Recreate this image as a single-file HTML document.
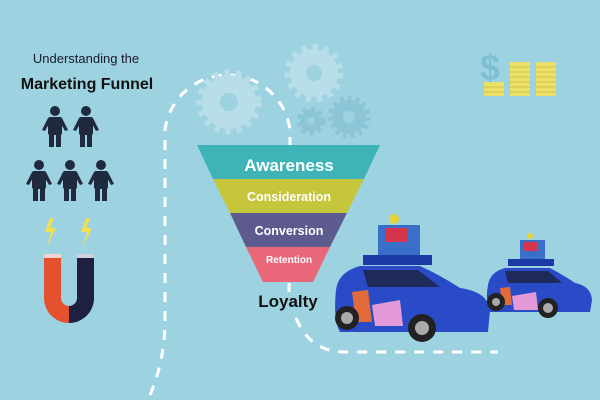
<!DOCTYPE html>
<html><head><meta charset="utf-8"><style>
html,body{margin:0;padding:0}
body{width:600px;height:400px;overflow:hidden;background:#9dd2e1}
svg{display:block}
text{font-family:"Liberation Sans",sans-serif;font-weight:bold}
</style></head><body>
<svg width="600" height="400" viewBox="0 0 600 400">
<rect width="600" height="400" fill="#9dd2e1"/>
<g fill="none" stroke="#fff" stroke-width="3" stroke-dasharray="10 9">
<path d="M150 395 Q165 360 165 320 L165 130 A63 63 0 0 1 290 130 L290 145"/>
<path d="M289 283 L289 292"/>
<path d="M296 318 Q310 352 345 352 L498 352"/>
</g>
<g fill="#b8dfe9">
<circle cx="229" cy="102" r="27"/>
<circle cx="314" cy="73" r="24"/>
</g>
<g fill="#8cc5d6">
<circle cx="349" cy="117" r="17"/>
<circle cx="311" cy="121" r="11"/>
</g>
<g fill="#9dd2e1"><circle cx="229" cy="102" r="9"/><circle cx="314" cy="73" r="8"/><circle cx="349" cy="117" r="6"/><circle cx="311" cy="121" r="4"/></g>
<g stroke="#b8dfe9" stroke-width="7" stroke-dasharray="5 6" fill="none"><circle cx="229" cy="102" r="29"/><circle cx="314" cy="73" r="26"/></g>
<g stroke="#8cc5d6" stroke-width="5" stroke-dasharray="4 4" fill="none"><circle cx="349" cy="117" r="19"/><circle cx="311" cy="121" r="12"/></g>
<text x="480" y="80" font-size="36" fill="#7dbfd3">$</text>
<g fill="#ebe06a">
<rect x="484" y="82" width="20" height="14"/>
<rect x="510" y="62" width="20" height="34"/>
<rect x="536" y="62" width="20" height="34"/>
</g>
<g stroke="#cfc24a" stroke-width="1"><path d="M484 87h20M484 92h20M510 67h20M510 72h20M510 77h20M510 82h20M510 87h20M510 92h20M536 67h20M536 72h20M536 77h20M536 82h20M536 87h20M536 92h20"/></g>
<polygon points="197,145 380,145 364,179 213,179" fill="#3fb4b8"/>
<polygon points="213,179 364,179 347,213 230,213" fill="#c5c63c"/>
<polygon points="230,213 347,213 330,247 246,247" fill="#5d5a8e"/>
<polygon points="246,247 330,247 313,282 263,282" fill="#e8687a"/>
<text x="289" y="171" font-size="17" fill="#fff" text-anchor="middle">Awareness</text>
<text x="289" y="201" font-size="12.5" fill="#fff" text-anchor="middle">Consideration</text>
<text x="289" y="235" font-size="12.5" fill="#fff" text-anchor="middle">Conversion</text>
<text x="289" y="263" font-size="10" fill="#fff" text-anchor="middle">Retention</text>
<text x="288" y="307" font-size="17" fill="#111" text-anchor="middle">Loyalty</text>
<text x="86" y="63" font-size="13" fill="#1a1a2a" text-anchor="middle" style="font-weight:normal">Understanding the</text>
<text x="87" y="89" font-size="16" fill="#111" text-anchor="middle">Marketing Funnel</text>
<g fill="#1f2a3f">
<g id="p"><circle cx="55" cy="111" r="5"/><rect x="48" y="117" width="14" height="18" rx="2"/><rect x="49" y="133" width="5" height="14"/><rect x="56" y="133" width="5" height="14"/><path d="M48 118 L42 130 L45 131 L50 122Z"/><path d="M62 118 L68 130 L65 131 L60 122Z"/></g>
<use href="#p" x="31"/>
<use href="#p" x="-16" y="54"/>
<use href="#p" x="15" y="54"/>
<use href="#p" x="46" y="54"/>
</g>
<g fill="#f3e04a"><path d="M50 218 L45 232 L51 232 L47 246 L56 228 L50 228 L54 218Z"/><path d="M86 218 L81 232 L87 232 L83 246 L92 228 L86 228 L90 218Z"/></g>
<path d="M44 258 L44 298 A25 25 0 0 0 69 323 L69 306 A8 8 0 0 1 61 298 L61 258Z" fill="#e5502f"/>
<path d="M94 258 L94 298 A25 25 0 0 1 69 323 L69 306 A8 8 0 0 0 77 298 L77 258Z" fill="#1f1f3f"/>
<rect x="44" y="254" width="17" height="4" fill="#f1d6d0"/><rect x="77" y="254" width="17" height="4" fill="#d0d0dc"/>
<rect x="378" y="225" width="42" height="30" fill="#3a6fc9"/>
<rect x="385" y="228" width="22" height="14" fill="#d6344a"/>
<circle cx="394" cy="219" r="5" fill="#e8d23a"/>
<rect x="363" y="255" width="69" height="10" fill="#1c3aa6"/>
<path d="M336 290 Q338 272 360 266 L420 266 Q440 275 460 288 Q488 292 490 310 L488 332 L340 332 Q333 320 336 290Z" fill="#2a4bc8"/>
<path d="M363 270 L418 270 L440 287 L368 287Z" fill="#1e2a5a"/>
<path d="M352 292 L368 290 L372 322 L356 322Z" fill="#e06a3a"/>
<path d="M372 305 L400 300 L403 326 L375 326Z" fill="#e49ad8"/>
<circle cx="347" cy="318" r="12" fill="#222"/><circle cx="347" cy="318" r="6" fill="#aaa"/>
<circle cx="422" cy="328" r="14" fill="#222"/><circle cx="422" cy="328" r="7" fill="#aaa"/>
<rect x="520" y="240" width="25" height="19" fill="#3a6fc9"/>
<rect x="524" y="242" width="14" height="9" fill="#d6344a"/>
<circle cx="530" cy="236" r="3" fill="#e8d23a"/>
<rect x="508" y="259" width="46" height="7" fill="#1c3aa6"/>
<path d="M488 285 Q490 272 505 268 L550 268 Q565 276 575 283 Q591 286 592 300 L590 312 L490 312 Q485 300 488 285Z" fill="#2a4bc8"/>
<path d="M505 271 L548 271 L562 283 L508 283Z" fill="#1e2a5a"/>
<path d="M500 288 L510 287 L512 305 L502 305Z" fill="#e06a3a"/>
<path d="M512 296 L536 292 L538 310 L514 310Z" fill="#e49ad8"/>
<circle cx="496" cy="302" r="9" fill="#222"/><circle cx="496" cy="302" r="4" fill="#aaa"/>
<circle cx="548" cy="308" r="10" fill="#222"/><circle cx="548" cy="308" r="5" fill="#aaa"/>
</svg>
</body></html>
